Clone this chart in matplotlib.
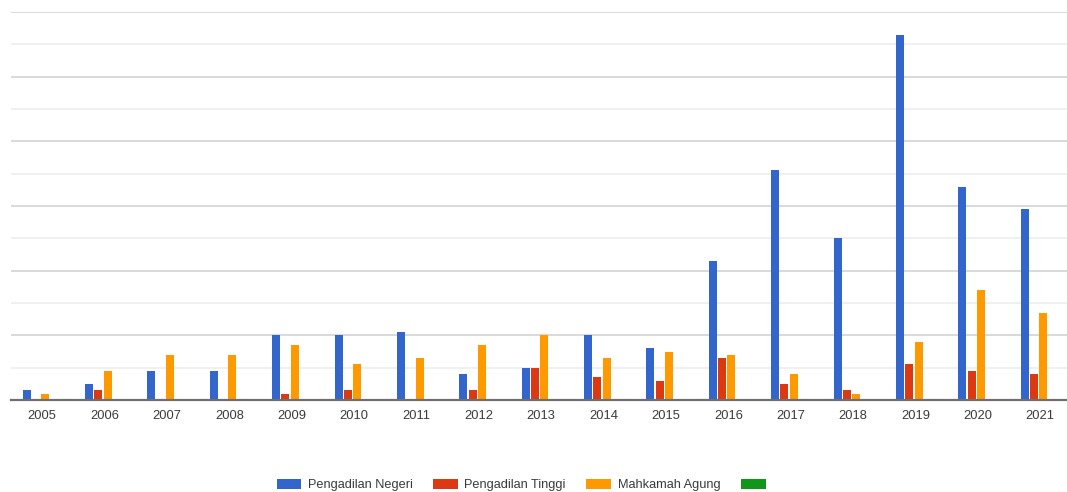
import numpy as np
import matplotlib.pyplot as plt

years = ['2005', '2006', '2007', '2008', '2009', '2010', '2011', '2012', '2013',
         '2014', '2015', '2016', '2017', '2018', '2019', '2020', '2021']
negeri = [3, 5, 9, 9, 20, 20, 21, 8, 10, 20, 16, 43, 71, 50, 113, 66, 59]
tinggi = [0, 3, 0, 0, 2, 3, 0, 3, 10, 7, 6, 13, 5, 3, 11, 9, 8]
agung = [2, 9, 14, 14, 17, 11, 13, 17, 20, 13, 15, 14, 8, 2, 18, 34, 27]
lain = [0] * 17

series = [('Pengadilan Negeri', negeri, '#3366cc'),
          ('Pengadilan Tinggi', tinggi, '#dc3912'),
          ('Mahkamah Agung', agung, '#ff9900'),
          (' ', lain, '#109618')]

plt.rcParams['font.family'] = ['Liberation Sans', 'DejaVu Sans']

fig = plt.figure(figsize=(10.67, 4.92), dpi=100)
ax = fig.add_axes([11 / 1067, 92 / 492, 1056 / 1067, 388 / 492])

x = np.arange(len(years))
step = 0.149
w = 0.128
for i, (name, vals, col) in enumerate(series):
    ax.bar(x + (i - 1.5) * step - 0.025, vals, width=w, color=col, label=name, zorder=3)

ax.set_xlim(-0.5, 16.43)
ax.set_ylim(0, 120)
ax.set_yticks(np.arange(0, 121, 20))
ax.set_yticks(np.arange(10, 120, 20), minor=True)
ax.grid(axis='y', which='major', color='#d9d9d9', linewidth=1.4, zorder=0)
ax.grid(axis='y', which='minor', color='#eeeeee', linewidth=1.2, zorder=0)
ax.tick_params(axis='y', which='both', left=False, labelleft=False)
ax.set_xticks(x)
ax.set_xticklabels(years, fontsize=9.3, color='#3a3a3a')
ax.tick_params(axis='x', length=0, pad=7)

for s in ['top', 'right', 'left']:
    ax.spines[s].set_visible(False)
ax.spines['bottom'].set_color('#6f6f6f')
ax.spines['bottom'].set_linewidth(1.6)
ax.spines['bottom'].set_zorder(4)

handles, labels = ax.get_legend_handles_labels()
fig.legend(handles, labels, loc='center', bbox_to_anchor=(526 / 1067, 1 - 485 / 492), ncol=4,
           frameon=False, fontsize=9.2, handlelength=1.95, handleheight=0.9,
           handletextpad=0.5, columnspacing=1.6, labelcolor='#3a3a3a')

fig.savefig('out.png', dpi=100)
